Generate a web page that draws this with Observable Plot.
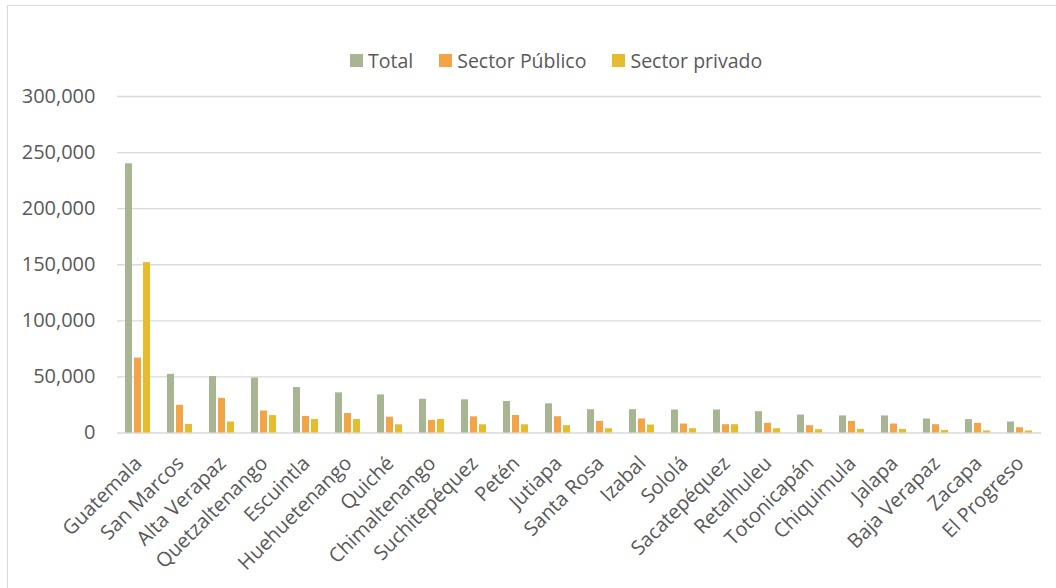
<!DOCTYPE html>
<html>
<head>
<meta charset="utf-8">
<script src="https://cdn.jsdelivr.net/npm/d3@7"></script>
<script src="https://cdn.jsdelivr.net/npm/@observablehq/plot@0.6"></script>
<style>
  html, body { margin: 0; padding: 0; background: #fff; overflow: hidden; }
  #wrap { position: relative; width: 1056px; height: 588px; font-family: "Open Sans", sans-serif; overflow: hidden; }
  #frame { position: absolute; left: 7px; top: 5px; width: 1100px; height: 640px; border: 1px solid #d9d9d9; box-sizing: border-box; pointer-events: none; }
  #legend { position: absolute; top: 47px; left: 350px; display: flex; gap: 26px; font-size: 19.5px; color: #595959; }
  #legend span.item { display: flex; align-items: center; gap: 5px; }
  #legend span.sw { width: 13px; height: 13px; display: inline-block; }
  #chart { position: absolute; left: 0; top: 0; }
</style>
</head>
<body>
<div id="wrap">
  <div id="chart"></div>
  <div id="legend"></div>
  <div id="frame"></div>
</div>
<script>
const departments = ["Guatemala", "San Marcos", "Alta Verapaz", "Quetzaltenango", "Escuintla", "Huehuetenango", "Quiché", "Chimaltenango", "Suchitepéquez", "Petén", "Jutiapa", "Santa Rosa", "Izabal", "Sololá", "Sacatepéquez", "Retalhuleu", "Totonicapán", "Chiquimula", "Jalapa", "Baja Verapaz", "Zacapa", "El Progreso"];
const total = [240000, 52300, 50300, 49000, 40500, 35800, 34000, 30100, 29600, 28100, 26000, 20800, 20800, 20500, 20500, 19000, 16000, 15200, 15200, 12500, 11900, 9800];
const sectorPublico = [66800, 24700, 30900, 19600, 14800, 17400, 14100, 11100, 14400, 15600, 14500, 10300, 12500, 8000, 7400, 8600, 6500, 10300, 8000, 7400, 8600, 4700];
const sectorPrivado = [151900, 7700, 9800, 15500, 12000, 12000, 7300, 12000, 7300, 7300, 6500, 3800, 7100, 3800, 7400, 3800, 2900, 3200, 3200, 2300, 1800, 1800];
const seriesNames = ["Total", "Sector Público", "Sector privado"];
const seriesColors = ["#a7b592", "#f3a446", "#e5bd2c"];
const yTicks = [0, 50000, 100000, 150000, 200000, 250000, 300000];

const seriesValues = [total, sectorPublico, sectorPrivado];
const rows = [];
departments.forEach((d, i) => {
  seriesNames.forEach((s, j) => rows.push({dept: d, series: s, value: seriesValues[j][i]}));
});

const chart = Plot.plot({
  width: 1056,
  height: 588,
  marginTop: 96,
  marginBottom: 155.5,
  marginLeft: 110,
  marginRight: 9,
  style: {fontFamily: "'Open Sans', sans-serif", fontSize: "20px", color: "#595959", background: "transparent"},
  fx: {domain: departments, padding: 0, label: null, axis: "bottom", tickRotate: -45, tickSize: 0, tickPadding: 27},
  x: {domain: seriesNames, axis: null, paddingInner: 0.22, paddingOuter: 0.83},
  y: {domain: [0, 300000], ticks: yTicks, tickFormat: d3.format(","), tickSize: 0, tickPadding: 22, label: null},
  color: {domain: seriesNames, range: seriesColors},
  marks: [
    Plot.ruleY(yTicks, {stroke: "#d9d9d9", strokeWidth: 1.3}),
    Plot.barY(rows, {fx: "dept", x: "series", y: "value", fill: "series"})
  ]
});
document.getElementById("chart").appendChild(chart);

const legend = document.getElementById("legend");
seriesNames.forEach((s, j) => {
  const item = document.createElement("span");
  item.className = "item";
  const sw = document.createElement("span");
  sw.className = "sw";
  sw.style.background = seriesColors[j];
  const t = document.createElement("span");
  t.textContent = s;
  item.appendChild(sw);
  item.appendChild(t);
  legend.appendChild(item);
});
</script>
</body>
</html>
